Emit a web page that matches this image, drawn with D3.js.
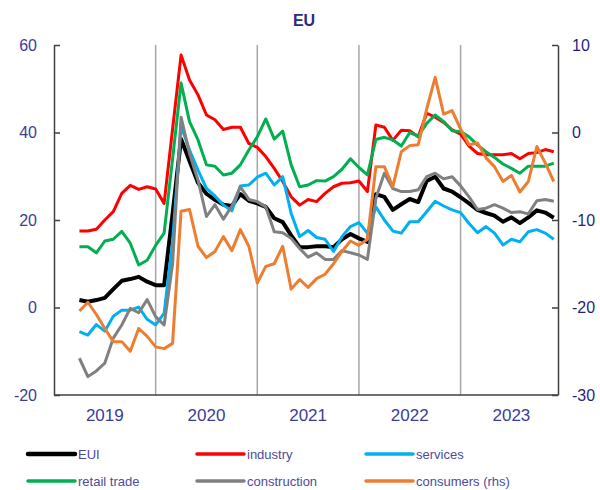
<!DOCTYPE html>
<html>
<head>
<meta charset="utf-8">
<script src="https://cdn.jsdelivr.net/npm/d3@7"></script>
<style>
  body { margin: 0; background: #fff; }
  svg text { font-family: "Liberation Sans", Arial, sans-serif; }
</style>
</head>
<body>
<script>
const w = 600;
const h = 490;

// monthly data, Apr 2019 .. Dec 2023
const firstMonth = 3; // months after Jan 2019
const years = ["2019", "2020", "2021", "2022", "2023"];
const leftTicks = [60, 40, 20, 0, -20];
const rightTicks = [10, 0, -10, -20, -30];

const eui = [1.7, 1.3, 1.7, 2.2, 4.2, 6.1, 6.5, 7.0, 5.9, 5.1, 5.1,
  21.5, 38.5, 33.5, 28.5, 26.0, 24.6, 23.5, 23.2, 25.9, 24.4, 23.8,
  23.0, 20.4, 19.5, 16.5, 13.8, 13.8, 14.0, 14.0, 13.8, 15.6, 16.8,
  15.8, 15.0, 25.9, 25.3, 22.3, 23.6, 24.8, 24.1, 28.9, 29.9, 27.2,
  26.5, 25.2, 23.8, 22.3, 21.6, 21.0, 19.6, 20.6, 19.3, 20.6, 22.2,
  21.7, 20.5];
const industry = [17.5, 17.5, 17.9, 20.0, 21.9, 26.1, 27.9, 27.0, 27.6, 27.1, 23.8,
  40.8, 57.7, 52.0, 48.6, 44.0, 42.9, 40.7, 41.2, 41.2, 37.5, 36.6,
  34.5, 31.8, 28.8, 25.3, 23.4, 24.7, 24.2, 26.1, 27.6, 28.4, 28.5,
  28.9, 26.5, 41.7, 41.2, 38.2, 40.5, 40.4, 39.0, 44.4, 43.5, 42.3,
  40.6, 39.6, 36.9, 35.2, 34.9, 34.9, 34.9, 35.2, 34.0, 35.2, 35.4,
  36.1, 35.6];
const services = [-5.5, -6.3, -3.9, -5.4, -2.0, -0.6, -0.6, 0.1, -2.7, -4.0, -1.3,
  15.0, 41.5, 36.0, 31.4, 27.2, 25.5, 23.4, 22.1, 27.8, 28.0, 29.8,
  30.7, 28.0, 29.9, 21.5, 16.2, 17.6, 16.0, 15.6, 12.8, 16.2, 18.5,
  19.4, 17.0, 23.0, 20.0, 17.5, 17.0, 19.6, 19.6, 21.9, 24.3, 23.2,
  22.3, 21.7, 19.2, 17.1, 18.5, 17.0, 14.3, 15.6, 15.0, 17.3, 17.8,
  17.0, 15.6];
const retail = [13.9, 13.9, 12.5, 15.2, 15.6, 17.4, 14.7, 9.7, 10.8, 14.2, 17.0,
  34.0, 51.3, 42.5, 38.3, 32.6, 32.3, 30.3, 30.7, 32.6, 36.0, 39.0,
  43.1, 38.5, 40.3, 32.6, 27.6, 28.0, 29.0, 28.9, 29.9, 31.6, 34.0,
  32.0, 30.3, 38.4, 38.9, 38.3, 36.9, 40.0, 39.2, 42.1, 44.0, 42.5,
  40.4, 40.2, 39.0, 37.1, 35.6, 34.3, 32.8, 31.8, 30.7, 32.3, 32.3,
  32.3, 33.0];
const construction = [-11.6, -15.8, -14.5, -12.7, -7.0, -4.0, -0.2, -1.2, 1.8, -2.1, -4.0,
  10.0, 43.5, 35.2, 29.1, 20.8, 23.5, 20.2, 23.2, 27.6, 24.7, 24.2,
  23.0, 17.3, 17.1, 15.8, 13.5, 11.5, 12.5, 11.0, 11.0, 13.0, 12.5,
  12.0, 11.0, 25.0, 30.7, 27.2, 26.5, 26.5, 26.9, 29.9, 30.7, 29.4,
  29.9, 27.8, 25.3, 22.4, 22.7, 23.5, 22.7, 21.7, 21.9, 21.4, 24.4,
  24.7, 24.3];
const consumers = [-20.4, -19.4, -20.8, -22.4, -23.9, -23.9, -25.0, -22.4, -23.3, -24.5, -24.7,
  -24.1, -9.0, -8.8, -13.0, -14.3, -13.6, -11.9, -13.5, -11.1, -13.0, -17.2,
  -15.3, -15.0, -13.0, -17.9, -16.8, -17.7, -16.7, -16.2, -15.0, -13.6, -12.4,
  -12.9, -12.2, -3.9, -3.9, -6.2, -2.2, -1.5, -1.4, 2.7, 6.3, 2.1,
  2.5, 0.4, -1.4, -1.2, -2.9, -3.9, -5.6, -4.9, -6.8, -5.6, -1.6,
  -3.5, -5.6];

const series = [
  { name: "EUI", values: eui, color: "#000000", width: 4, rhs: false },
  { name: "industry", values: industry, color: "#ff0000", width: 3, rhs: false },
  { name: "services", values: services, color: "#00b0f0", width: 3, rhs: false },
  { name: "retail trade", values: retail, color: "#00b050", width: 3, rhs: false },
  { name: "construction", values: construction, color: "#808080", width: 3, rhs: false },
  { name: "consumers (rhs)", values: consumers, color: "#ed7d31", width: 3, rhs: true }
];

const plotLeft = 54, plotRight = 558, plotTop = 45, plotBottom = 395;

const svg = d3.select("body")
  .append("svg")
  .attr("width", w)
  .attr("height", h);

const xScale = d3.scaleLinear()
  .domain([0, 59.5])
  .range([plotLeft, plotRight]);

const yLeft = d3.scaleLinear()
  .domain([-20, 60])
  .range([plotBottom, plotTop]);

const yRight = d3.scaleLinear()
  .domain([-30, 10])
  .range([plotBottom, plotTop]);

// title
svg.append("text")
  .attr("x", 304)
  .attr("y", 26)
  .attr("text-anchor", "middle")
  .style("font-size", "16px")
  .style("font-weight", "bold")
  .style("fill", "#2b2b7e")
  .text("EU");

// year separators
svg.selectAll("line.sep")
  .data(years.slice(1))
  .enter()
  .append("line")
  .attr("class", "sep")
  .attr("x1", (d, i) => xScale((i + 1) * 12))
  .attr("x2", (d, i) => xScale((i + 1) * 12))
  .attr("y1", plotTop)
  .attr("y2", plotBottom)
  .attr("stroke", "#a6a6a6")
  .attr("stroke-width", 1.5);

// year labels
svg.selectAll("text.year")
  .data(years)
  .enter()
  .append("text")
  .attr("class", "year")
  .attr("x", (d, i) => xScale(i * 12 + 6))
  .attr("y", 421)
  .attr("text-anchor", "middle")
  .style("font-size", "17px")
  .style("fill", "#3c3c98")
  .text(d => d);

// axes (plain hyphen for negatives, like the source)
const leftAxis = d3.axisLeft(yLeft)
  .tickValues(leftTicks)
  .tickFormat(d => String(d))
  .tickSizeInner(-6)
  .tickSizeOuter(0)
  .tickPadding(17);
const leftG = svg.append("g")
  .attr("transform", `translate(${plotLeft}, 0)`)
  .call(leftAxis);
leftG.selectAll("text")
  .style("font-size", "16px")
  .style("font-family", "Liberation Sans, Arial, sans-serif")
  .style("fill", "#3c3c98");

const rightAxis = d3.axisRight(yRight)
  .tickValues(rightTicks)
  .tickFormat(d => String(d))
  .tickSizeInner(-6)
  .tickSizeOuter(0)
  .tickPadding(14);
const rightG = svg.append("g")
  .attr("transform", `translate(${plotRight}, 0)`)
  .call(rightAxis);
rightG.selectAll("text")
  .style("font-size", "16px")
  .style("font-family", "Liberation Sans, Arial, sans-serif")
  .style("fill", "#1f1f80");

[leftG, rightG].forEach(g => {
  g.select(".domain").attr("stroke", "#404040").attr("stroke-width", 1.5);
  g.selectAll(".tick line").attr("stroke", "#404040").attr("stroke-width", 1.5);
});

svg.append("line")
  .attr("x1", plotLeft)
  .attr("x2", plotRight)
  .attr("y1", plotBottom)
  .attr("y2", plotBottom)
  .attr("stroke", "#404040")
  .attr("stroke-width", 1.5);

// lines
series.forEach(s => {
  const yS = s.rhs ? yRight : yLeft;
  const line = d3.line()
    .x((d, i) => xScale(firstMonth + i))
    .y(d => yS(d));
  svg.append("path")
    .datum(s.values)
    .attr("fill", "none")
    .attr("stroke", s.color)
    .attr("stroke-width", s.width)
    .attr("stroke-linejoin", "round")
    .attr("d", line);
});

// legend
const legend = svg.selectAll("g.legend")
  .data(series)
  .enter()
  .append("g")
  .attr("class", "legend")
  .attr("transform", (d, i) => `translate(${28 + (i % 3) * 169}, ${i < 3 ? 454 : 481})`);

legend.append("line")
  .attr("x1", 0)
  .attr("x2", 47)
  .attr("stroke", d => d.color)
  .attr("stroke-width", d => d.width + 0.5)
  .attr("stroke-linecap", "round");

legend.append("text")
  .attr("x", 50)
  .attr("y", 5)
  .style("font-size", "13px")
  .style("fill", "#4b4b9b")
  .text(d => d.name);
</script>
</body>
</html>
